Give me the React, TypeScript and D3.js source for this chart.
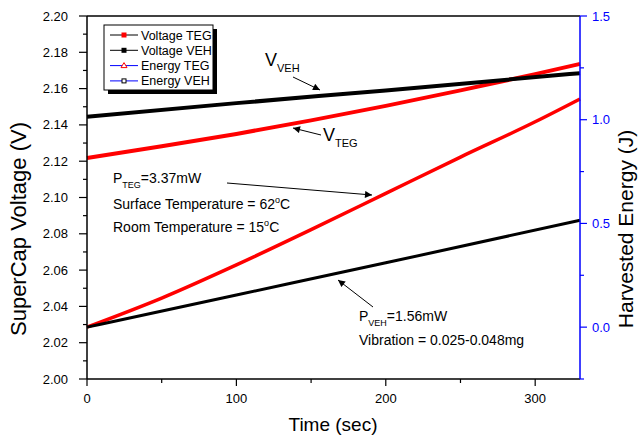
import React from 'react';
import * as d3 from 'd3';

// ---- data ----
const timeVoltTEG = [0, 50, 100, 150, 200, 250, 300, 330];
const voltTEG = [2.1218, 2.1282, 2.135, 2.1425, 2.1505, 2.159, 2.168, 2.1736];
const timeVoltVEH = [0, 100, 200, 330];
const voltVEH = [2.1445, 2.152, 2.159, 2.1685];
const timeEnergyTEG = [0, 50, 100, 150, 200, 250, 300, 330];
const energyTEG = [0, 0.14, 0.3, 0.47, 0.645, 0.82, 0.99, 1.1];
const timeEnergyVEH = [0, 100, 200, 330];
const energyVEH = [0, 0.155, 0.31, 0.515];

const xMajorTicks = [0, 100, 200, 300];
const xMinorTicks = [50, 150, 250];
const yLeftMajorTicks = [2.0, 2.02, 2.04, 2.06, 2.08, 2.1, 2.12, 2.14, 2.16, 2.18, 2.2];
const yLeftMinorTicks = [2.01, 2.03, 2.05, 2.07, 2.09, 2.11, 2.13, 2.15, 2.17, 2.19];
const yRightMajorTicks = [0, 0.5, 1.0, 1.5];
const yRightMinorTicks = [-0.25, 0.25, 0.75, 1.25];

const legendLabels = ['Voltage TEG', 'Voltage VEH', 'Energy TEG', 'Energy VEH'];

const FONT = "'Liberation Sans', Arial, sans-serif";
const BLUE = '#0000ff';
const RED = '#ff0000';

export default function App() {
  const L = 87, R = 580, T = 16, B = 379;
  const x = d3.scaleLinear().domain([0, 330]).range([L, R]);
  const yL = d3.scaleLinear().domain([2.0, 2.2]).range([B, T]);
  const yR = d3.scaleLinear().domain([-0.25, 1.5]).range([B, T]);

  const lineL = d3.line<[number, number]>().x(d => x(d[0])).y(d => yL(d[1])).curve(d3.curveMonotoneX);
  const lineR = d3.line<[number, number]>().x(d => x(d[0])).y(d => yR(d[1])).curve(d3.curveMonotoneX);
  const zip = (a: number[], b: number[]) => a.map((v, i) => [v, b[i]] as [number, number]);

  const legendX = 104, legendY = 25, legendW = 109, legendH = 65;

  return (
    <svg width={640} height={440} style={{ position: 'absolute', left: 0, top: 0, background: '#fff' }} fontFamily={FONT}>
      <defs>
        <marker id="arr" viewBox="0 0 10 10" refX="10" refY="5" markerWidth="9" markerHeight="7" orient="auto" markerUnits="userSpaceOnUse">
          <path d="M0,0 L10,5 L0,10 z" fill="#000" />
        </marker>
      </defs>
      <rect x={0} y={0} width={640} height={440} fill="#fff" />

      {/* data lines */}
      <path d={lineL(zip(timeVoltTEG, voltTEG)) || ''} fill="none" stroke={RED} strokeWidth={4} />
      <path d={lineL(zip(timeVoltVEH, voltVEH)) || ''} fill="none" stroke="#000" strokeWidth={4} />
      <path d={lineR(zip(timeEnergyTEG, energyTEG)) || ''} fill="none" stroke={RED} strokeWidth={3.5} />
      <path d={lineR(zip(timeEnergyVEH, energyVEH)) || ''} fill="none" stroke="#000" strokeWidth={3} />

      {/* frame */}
      <line x1={L} y1={T} x2={R} y2={T} stroke="#000" strokeWidth={1.5} />
      <line x1={L} y1={B} x2={R} y2={B} stroke="#000" strokeWidth={1.5} />
      <line x1={L} y1={T} x2={L} y2={B} stroke="#000" strokeWidth={1.5} />
      <line x1={R} y1={T} x2={R} y2={B} stroke={BLUE} strokeWidth={1.5} />

      {/* x ticks */}
      {xMajorTicks.map(t => (
        <g key={'xm' + t}>
          <line x1={x(t)} x2={x(t)} y1={B} y2={B + 7} stroke="#000" strokeWidth={1.2} />
          <text x={x(t)} y={403} fontSize={13} textAnchor="middle">{t}</text>
        </g>
      ))}
      {xMinorTicks.map(t => (
        <line key={'xn' + t} x1={x(t)} x2={x(t)} y1={B} y2={B + 4} stroke="#000" strokeWidth={1.2} />
      ))}

      {/* left y ticks */}
      {yLeftMajorTicks.map(t => (
        <g key={'ylm' + t}>
          <line x1={L - 8} x2={L} y1={yL(t)} y2={yL(t)} stroke="#000" strokeWidth={1.2} />
          <text x={68} y={yL(t) + 4.5} fontSize={13} textAnchor="end">{t.toFixed(2)}</text>
        </g>
      ))}
      {yLeftMinorTicks.map(t => (
        <line key={'yln' + t} x1={L - 4} x2={L} y1={yL(t)} y2={yL(t)} stroke="#000" strokeWidth={1.2} />
      ))}

      {/* right y ticks */}
      {yRightMajorTicks.map(t => (
        <g key={'yrm' + t}>
          <line x1={R} x2={R + 7} y1={yR(t)} y2={yR(t)} stroke={BLUE} strokeWidth={1.2} />
          <text x={592} y={yR(t) + 4.5} fontSize={13} fill={BLUE}>{t.toFixed(1)}</text>
        </g>
      ))}
      {yRightMinorTicks.map(t => (
        <line key={'yrn' + t} x1={R} x2={R + 4} y1={yR(t)} y2={yR(t)} stroke={BLUE} strokeWidth={1.2} />
      ))}

      {/* axis titles */}
      <text x={333} y={431} fontSize={19} textAnchor="middle">Time (sec)</text>
      <text transform="translate(26,229) rotate(-90)" fontSize={22} textAnchor="middle">SuperCap Voltage (V)</text>
      <text transform="translate(633,229) rotate(-90)" fontSize={21} textAnchor="middle">Harvested Energy (J)</text>

      {/* legend */}
      <rect x={legendX + 4} y={legendY + 4} width={legendW} height={legendH} fill="#000" />
      <rect x={legendX} y={legendY} width={legendW} height={legendH} fill="#fff" stroke="#000" strokeWidth={1} />
      {legendLabels.map((lab, i) => {
        const cy = 35 + i * 15.3;
        const lineColor = i < 2 ? '#000' : BLUE;
        return (
          <g key={lab}>
            <line x1={110} x2={138} y1={cy} y2={cy} stroke={lineColor} strokeWidth={1} />
            {i === 0 && <rect x={121.5} y={cy - 2.5} width={5} height={5} fill={RED} />}
            {i === 1 && <rect x={121.5} y={cy - 2.5} width={5} height={5} fill="#000" />}
            {i === 2 && <path d={`M124,${cy - 3} L127,${cy + 2} L121,${cy + 2} Z`} fill="#fff" stroke={RED} strokeWidth={1} />}
            {i === 3 && <rect x={122} y={cy - 2} width={4} height={4} fill="#fff" stroke="#000" strokeWidth={1} />}
            <text x={141} y={cy + 4.5} fontSize={12.5}>{lab}</text>
          </g>
        );
      })}

      {/* annotations */}
      <text x={265} y={66} fontSize={18}>V<tspan fontSize={11} dy={6}>VEH</tspan></text>
      <line x1={293} y1={77} x2={320} y2={90} stroke="#000" strokeWidth={1} markerEnd="url(#arr)" />

      <text x={323} y={141} fontSize={18}>V<tspan fontSize={11} dy={6}>TEG</tspan></text>
      <line x1={321} y1={135} x2={293} y2={128} stroke="#000" strokeWidth={1} markerEnd="url(#arr)" />

      <text x={113} y={183} fontSize={14}>P<tspan fontSize={9} dy={5}>TEG</tspan><tspan dy={-5}>=3.37mW</tspan></text>
      <line x1={227} y1={183} x2={372} y2={195} stroke="#000" strokeWidth={1} markerEnd="url(#arr)" />
      <text x={113} y={209} fontSize={14}>Surface Temperature = 62<tspan fontSize={9} dy={-6}>o</tspan><tspan dy={6}>C</tspan></text>
      <text x={113} y={232} fontSize={14}>Room Temperature = 15<tspan fontSize={9} dy={-6}>o</tspan><tspan dy={6}>C</tspan></text>

      <line x1={373} y1={307} x2={338} y2={280} stroke="#000" strokeWidth={1} markerEnd="url(#arr)" />
      <text x={359} y={321} fontSize={14}>P<tspan fontSize={9} dy={5}>VEH</tspan><tspan dy={-5}>=1.56mW</tspan></text>
      <text x={359} y={345} fontSize={14}>Vibration = 0.025-0.048mg</text>
    </svg>
  );
}
